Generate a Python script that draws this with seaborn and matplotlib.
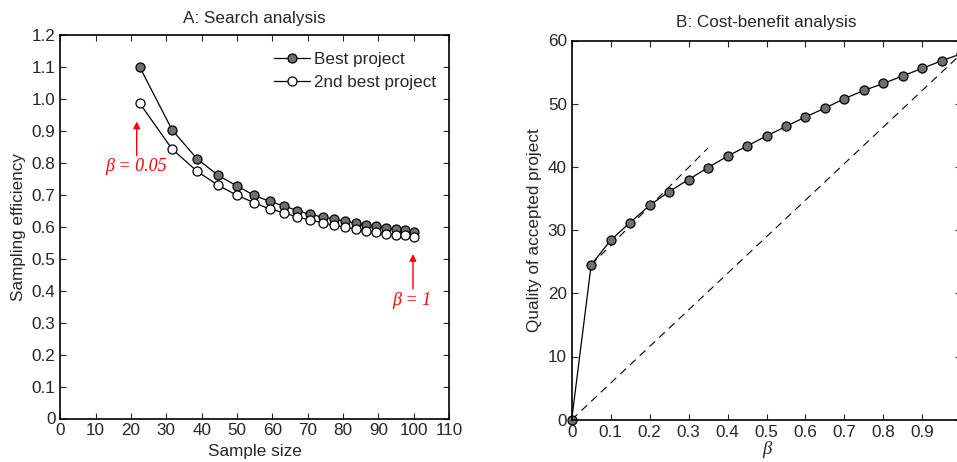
import matplotlib
matplotlib.use("Agg")
import matplotlib.pyplot as plt
import seaborn as sns
import pandas as pd

# ---- Data ----
sample_size = [22.4, 31.6, 38.7, 44.7, 50.0, 54.8, 59.2, 63.2, 67.1, 70.7,
               74.2, 77.5, 80.6, 83.7, 86.6, 89.4, 92.2, 94.9, 97.5, 100.0]
best_eff = [1.102, 0.904, 0.813, 0.761, 0.728, 0.699, 0.680, 0.666, 0.651, 0.639,
            0.631, 0.625, 0.618, 0.611, 0.606, 0.602, 0.598, 0.593, 0.591, 0.584]
second_eff = [0.988, 0.844, 0.774, 0.730, 0.699, 0.676, 0.656, 0.645, 0.630, 0.622,
              0.613, 0.605, 0.599, 0.594, 0.588, 0.583, 0.579, 0.574, 0.574, 0.569]

beta = [0.0, 0.05, 0.10, 0.15, 0.20, 0.25, 0.30, 0.35, 0.40, 0.45, 0.50,
        0.55, 0.60, 0.65, 0.70, 0.75, 0.80, 0.85, 0.90, 0.95, 1.00]
quality = [0.0, 24.5, 28.4, 31.2, 33.9, 36.1, 38.0, 39.9, 41.7, 43.3, 44.9,
           46.4, 47.9, 49.3, 50.8, 52.1, 53.2, 54.4, 55.6, 56.8, 57.9]
tangent_x = [0.05, 0.35]
tangent_y = [24.5, 43.0]
diag_x = [0.0, 1.0]
diag_y = [0.0, 57.9]

a_yticks = [0, 0.1, 0.2, 0.3, 0.4, 0.5, 0.6, 0.7, 0.8, 0.9, 1.0, 1.1, 1.2]
a_yticklabels = ["0", "0.1", "0.2", "0.3", "0.4", "0.5", "0.6", "0.7", "0.8", "0.9", "1.0", "1.1", "1.2"]
a_xticks = [0, 10, 20, 30, 40, 50, 60, 70, 80, 90, 100, 110]
b_xticks = [0, 0.1, 0.2, 0.3, 0.4, 0.5, 0.6, 0.7, 0.8, 0.9]
b_xticklabels = ["0", "0.1", "0.2", "0.3", "0.4", "0.5", "0.6", "0.7", "0.8", "0.9"]
b_yticks = [0, 10, 20, 30, 40, 50, 60]

# ---- Style ----
sns.set_style("ticks")
plt.rcParams['font.family'] = ['Liberation Sans', 'DejaVu Sans']
plt.rcParams['xtick.direction'] = 'in'
plt.rcParams['ytick.direction'] = 'in'

W, H = 957, 462
fig = plt.figure(figsize=(W / 100, H / 100), dpi=100)

def pos(l, r, t, b):
    return [l / W, 1 - b / H, (r - l) / W, (b - t) / H]

axA = fig.add_axes(pos(60.4, 449, 35.3, 418.5))
axB = fig.add_axes(pos(571.7, 961.3, 40.5, 419.7))

fs = 12.3
mfc = '#6f6f6f'
ms = 6.5

# ---- Panel A ----
dfa = pd.DataFrame({"n": sample_size, "best": best_eff, "second": second_eff})
sns.lineplot(data=dfa, x="n", y="best", ax=axA, color='k', lw=0.9, marker='o',
             markersize=ms, markerfacecolor=mfc, markeredgecolor='k',
             markeredgewidth=0.9, label="Best project")
sns.lineplot(data=dfa, x="n", y="second", ax=axA, color='k', lw=0.9, marker='o',
             markersize=ms, markerfacecolor='white', markeredgecolor='k',
             markeredgewidth=0.9, label="2nd best project")
axA.set_xlim(0, 110)
axA.set_ylim(0, 1.2)
axA.set_xticks(a_xticks)
axA.set_yticks(a_yticks)
axA.set_yticklabels(a_yticklabels)
axA.set_xlabel("Sample size", fontsize=fs, labelpad=4)
axA.set_ylabel("Sampling efficiency", fontsize=fs, labelpad=4)
axA.set_title("A: Search analysis", fontsize=fs, pad=9)
leg = axA.legend(loc='upper right', bbox_to_anchor=(0.968, 0.957), frameon=False,
                 fontsize=fs, handlelength=2.1, handletextpad=0.25,
                 borderaxespad=0, borderpad=0, labelspacing=0.48)

red_font = dict(family=['Liberation Serif', 'DejaVu Serif'], style='italic',
                color='#ff0000', fontsize=13)
axA.annotate("", xy=(21.6, 0.93), xytext=(21.6, 0.823),
             arrowprops=dict(arrowstyle='-|>', color='#ff0000', lw=1.0,
                             mutation_scale=10, shrinkA=0, shrinkB=0))
axA.text(21.4, 0.79, "β = 0.05", ha='center', va='center', **red_font)
axA.annotate("", xy=(99.8, 0.515), xytext=(99.8, 0.406),
             arrowprops=dict(arrowstyle='-|>', color='#ff0000', lw=1.0,
                             mutation_scale=10, shrinkA=0, shrinkB=0))
axA.text(99.5, 0.368, "β = 1", ha='center', va='center', **red_font)

# ---- Panel B ----
dfb = pd.DataFrame({"beta": beta, "q": quality})
sns.lineplot(x=diag_x, y=diag_y, ax=axB, color='k', lw=0.8, linestyle=(0, (7, 5)))
sns.lineplot(x=tangent_x, y=tangent_y, ax=axB, color='k', lw=0.8, linestyle=(0, (7, 5)))
sns.lineplot(data=dfb, x="beta", y="q", ax=axB, color='k', lw=0.9, marker='o',
             markersize=ms, markerfacecolor=mfc, markeredgecolor='k',
             markeredgewidth=0.9, clip_on=False)
axB.set_xlim(0, 1)
axB.set_ylim(0, 60)
axB.set_xticks(b_xticks)
axB.set_xticklabels(b_xticklabels)
axB.set_yticks(b_yticks)
axB.set_xlabel("β", fontsize=13.5, labelpad=1,
               family=['Liberation Serif', 'DejaVu Serif'], style='italic')
axB.set_ylabel("Quality of accepted project", fontsize=fs, labelpad=4)
axB.set_title("B: Cost-benefit analysis", fontsize=fs, pad=9.7)

for ax in (axA, axB):
    ax.tick_params(axis='both', which='both', top=True, right=True,
                   length=4, width=0.8, labelsize=fs, pad=3.5)
    for s in ax.spines.values():
        s.set_visible(True)
        s.set_linewidth(1.2)
        s.set_color('k')

fig.savefig("out.png", dpi=100)
